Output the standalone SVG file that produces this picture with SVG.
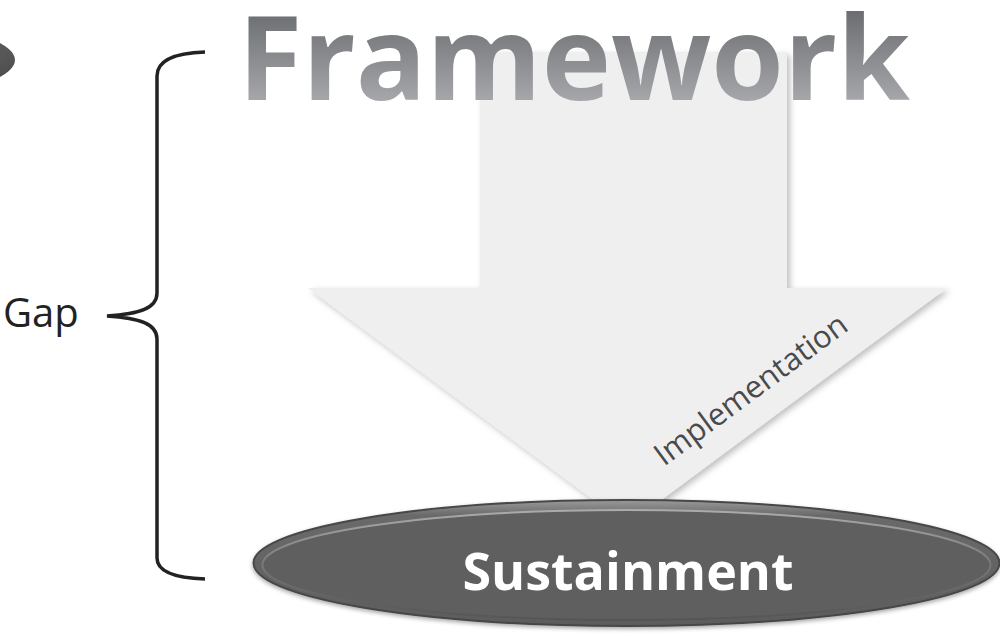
<svg xmlns="http://www.w3.org/2000/svg" width="1000" height="636" viewBox="0 0 1000 636">
  <defs>
    <linearGradient id="fwGrad" x1="0" y1="0" x2="0" y2="1">
      <stop offset="0" stop-color="#54575b"/>
      <stop offset="1" stop-color="#bbbcbf"/>
    </linearGradient>
    <linearGradient id="ellGrad" x1="0" y1="0" x2="0" y2="1">
      <stop offset="0" stop-color="#9a9a9a"/>
      <stop offset="0.12" stop-color="#6a6a6a"/>
      <stop offset="1" stop-color="#5c5c5c"/>
    </linearGradient>
    <linearGradient id="rimGrad" x1="0" y1="0" x2="0" y2="1">
      <stop offset="0" stop-color="#ababab"/>
      <stop offset="0.5" stop-color="#777"/>
      <stop offset="1" stop-color="#555"/>
    </linearGradient>
    <radialGradient id="leftGrad" cx="0.7" cy="0.4" r="0.6">
      <stop offset="0" stop-color="#777"/>
      <stop offset="1" stop-color="#333"/>
    </radialGradient>
    <filter id="shadow" x="-10%" y="-10%" width="120%" height="120%">
      <feDropShadow dx="3" dy="3" stdDeviation="3" flood-color="#000" flood-opacity="0.25"/>
    </filter>
    <filter id="eshadow" x="-10%" y="-20%" width="120%" height="140%">
      <feDropShadow dx="0" dy="2" stdDeviation="2" flood-color="#000" flood-opacity="0.35"/>
    </filter>
    <style>
      .brace { fill: none; stroke: #222; stroke-width: 3.5; stroke-linecap: butt; }
      .sans { font-family: "Open Sans", "Liberation Sans", sans-serif; }
    </style>
  </defs>

  <g id="left-ellipse">
    <ellipse cx="-305" cy="60" rx="320" ry="56" fill="url(#leftGrad)"/>
  </g>

  <g id="arrow" filter="url(#shadow)">
    <path d="M480,52 L787,52 L787,288 L947,288 L627.5,525 L308,288 L480,288 Z" fill="#efefef"/>
  </g>

  <g id="framework">
    <text x="238" y="100" class="sans" font-size="116" font-weight="700" fill="url(#fwGrad)" textLength="672" lengthAdjust="spacingAndGlyphs">Framework</text>
  </g>

  <g id="implementation">
    <text class="sans" font-size="31" fill="#4a4a4a" text-anchor="middle" transform="translate(757,398) rotate(-36.5)">Implementation</text>
  </g>

  <g id="sustainment">
    <ellipse cx="626.5" cy="563" rx="373" ry="63" fill="url(#ellGrad)" stroke="#474747" stroke-width="2" filter="url(#eshadow)"/>
    <ellipse cx="626.5" cy="565" rx="364" ry="55" fill="#5f5f5f" stroke="url(#rimGrad)" stroke-width="2"/>
    <text x="628" y="590" class="sans" font-size="52" font-weight="700" fill="#ffffff" text-anchor="middle">Sustainment</text>
  </g>

  <g id="gap">
    <text x="3" y="327" class="sans" font-size="40" fill="#222">Gap</text>
  </g>

  <g id="connectors">
    <path class="brace" d="M205,52 C175,53 157,60 157,76 L157,293 C157,308 140,314 107,316 C140,318 157,324 157,339 L157,558 C157,572 175,578 205,579"/>
  </g>
</svg>
